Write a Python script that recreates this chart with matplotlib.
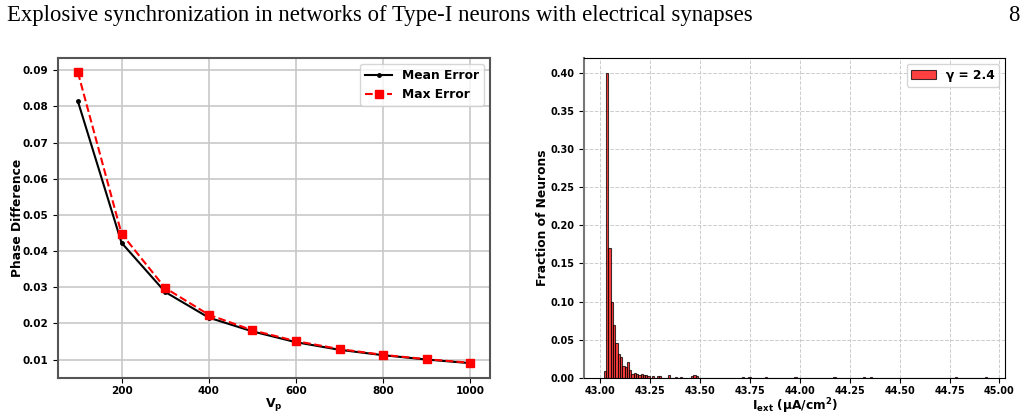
import numpy as np
import matplotlib.pyplot as plt

#--------data begin--------
vp = [100, 200, 300, 400, 500, 600, 700, 800, 900, 1000]
mean_err = [0.0814, 0.0423, 0.0287, 0.0216, 0.0178, 0.0148, 0.0127, 0.0112, 0.0100, 0.0090]
max_err = [0.0894, 0.0448, 0.0298, 0.0224, 0.0181, 0.0151, 0.0129, 0.0113, 0.0101, 0.0091]

# I_ext values (bin centres) and fraction of neurons in each
iext = [43.024, 43.035, 43.047, 43.058, 43.070, 43.081, 43.093, 43.104, 43.116, 43.127,
        43.139, 43.150, 43.162, 43.173, 43.185, 43.196, 43.208, 43.219, 43.231, 43.242,
        43.265, 43.288, 43.300, 43.342, 43.377, 43.400, 43.465, 43.477, 43.488,
        43.710, 43.750, 43.830, 43.980, 44.170, 44.320, 44.360, 44.780, 44.930]
frac = [0.009, 0.400, 0.170, 0.099, 0.069, 0.045, 0.031, 0.027, 0.015, 0.014,
        0.020, 0.010, 0.005, 0.006, 0.005, 0.004, 0.005, 0.003, 0.004, 0.002,
        0.002, 0.002, 0.002, 0.004, 0.001, 0.001, 0.002, 0.003, 0.002,
        0.001, 0.001, 0.001, 0.001, 0.001, 0.001, 0.001, 0.001, 0.001]
iext_ticks = [43.00, 43.25, 43.50, 43.75, 44.00, 44.25, 44.50, 44.75, 45.00]
#--------data end--------

fig = plt.figure(figsize=(10.28, 4.17), dpi=100)

fig.text(0.007, 0.95, "Explosive synchronization in networks of Type-I neurons with electrical synapses",
         family="Liberation Serif", fontsize=16.4, va="baseline")
fig.text(0.992, 0.95, "8", family="Liberation Serif", fontsize=16.4, va="baseline", ha="right")

# left panel
ax1 = fig.add_axes([0.0567, 0.0942, 0.42, 0.767])
ax1.plot(vp, mean_err, color="black", marker=".", markersize=5, lw=1.5, label="Mean Error")
ax1.plot(vp, max_err, color="red", ls="--", marker="s", markersize=5.5, lw=1.5, label="Max Error")
ax1.grid(True, color="#c8c8c8", lw=1.2)
ax1.set_axisbelow(True)
for s in ax1.spines.values():
  s.set_color("#555555")
  s.set_linewidth(1.5)
ax1.set_xticks([200, 400, 600, 800, 1000])
ax1.set_yticks([0.01, 0.02, 0.03, 0.04, 0.05, 0.06, 0.07, 0.08, 0.09])
ax1.tick_params(labelsize=7.5)
ax1.tick_params(axis="x", pad=2.5)
for lab in ax1.get_xticklabels() + ax1.get_yticklabels():
  lab.set_fontweight("bold")
ax1.set_xlabel(r"$\mathbf{V_p}$", fontsize=9, labelpad=0)
ax1.set_ylabel("Phase Difference", fontsize=8.8, fontweight="bold", labelpad=-1)
ax1.legend(loc="upper right", prop={"weight": "bold", "size": 8.8}, handlelength=2.2,
           borderaxespad=0.5)

# right panel
ax2 = fig.add_axes([0.5684, 0.0942, 0.4096, 0.767])
bins = np.arange(43.018, 44.96, 0.0115)
ax2.hist(iext, bins=bins, weights=frac, color="red", alpha=0.75, edgecolor="black",
         linewidth=0.8, label="γ = 2.4")
ax2.grid(True, ls="--", color="#cccccc", lw=0.7)
ax2.set_axisbelow(True)
ax2.spines["left"].set_color("#777777")
ax2.spines["left"].set_linewidth(1.5)
ax2.set_xlim(42.92, 45.03)
ax2.set_ylim(0, 0.42)
ax2.set_xticks(iext_ticks)
ax2.set_yticks([0.0, 0.05, 0.10, 0.15, 0.20, 0.25, 0.30, 0.35, 0.40])
ax2.tick_params(labelsize=7)
ax2.tick_params(axis="x", pad=2.5)
for lab in ax2.get_xticklabels() + ax2.get_yticklabels():
  lab.set_fontweight("bold")
ax2.set_xlabel(r"$\mathbf{I_{ext}}$ (μA/cm$^\mathbf{2}$)", fontsize=8.8, fontweight="bold", labelpad=0)
ax2.set_ylabel("Fraction of Neurons", fontsize=8.8, fontweight="bold", labelpad=1)
ax2.legend(loc="upper right", prop={"weight": "bold", "size": 8.8}, borderaxespad=0.5)

fig.savefig("out.png", dpi=100)
